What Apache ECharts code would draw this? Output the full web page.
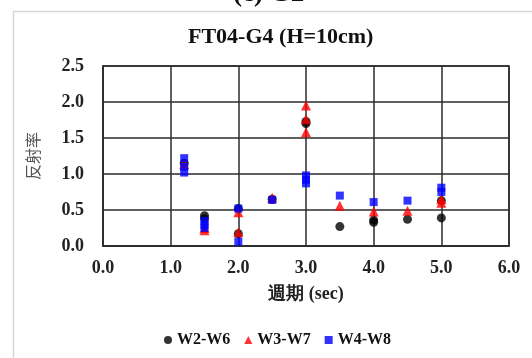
<!DOCTYPE html>
<html>
<head>
<meta charset="utf-8">
<script src="https://cdn.jsdelivr.net/npm/echarts@6/dist/echarts.min.js"></script>
<style>
  html, body { margin: 0; padding: 0; background: #fff; }
  #chart { width: 532px; height: 358px; }
</style>
</head>
<body>
<div id="chart"></div>
<script>
// Reflection coefficient vs. wave period, gauge pairs W2-W6 / W3-W7 / W4-W8
const xTicks = ['0.0', '1.0', '2.0', '3.0', '4.0', '5.0', '6.0'];
const yTicks = ['0.0', '0.5', '1.0', '1.5', '2.0', '2.5'];

const w26Period = [1.2, 1.5, 1.5, 2.0, 2.0, 2.5, 3.0, 3.0, 3.5, 4.0, 4.0, 4.5, 5.0, 5.0];
const w26Value  = [1.15, 0.42, 0.38, 0.52, 0.17, 0.65, 1.70, 1.73, 0.27, 0.33, 0.36, 0.37, 0.63, 0.39];

const w37Period = [1.2, 1.5, 1.5, 2.0, 2.0, 2.5, 3.0, 3.0, 3.0, 3.5, 4.0, 4.5, 5.0, 5.0];
const w37Value  = [1.14, 0.22, 0.25, 0.47, 0.19, 0.67, 1.95, 1.76, 1.58, 0.56, 0.48, 0.49, 0.60, 0.65];

const w48Period = [1.2, 1.2, 1.2, 1.5, 1.5, 1.5, 2.0, 2.0, 2.5, 3.0, 3.0, 3.0, 3.5, 4.0, 4.5, 5.0, 5.0];
const w48Value  = [1.22, 1.10, 1.02, 0.35, 0.29, 0.25, 0.52, 0.06, 0.64, 0.98, 0.92, 0.87, 0.70, 0.61, 0.63, 0.81, 0.75];

const pairs = (xs, ys) => xs.map((x, i) => [x, ys[i]]);

const serif = '"Liberation Serif", "Times New Roman", serif';
const lineColor = '#2b2b2b';

const chart = echarts.init(document.getElementById('chart'), null, { renderer: 'canvas' });
chart.setOption({
  backgroundColor: '#ffffff',
  animation: false,
  graphic: [
    { type: 'rect', left: 11, top: 9, shape: { width: 540, height: 360 },
      style: { fill: 'none', stroke: '#d6d6d6', lineWidth: 1.5 } },
    { type: 'text', left: 233, top: -19,
      style: { text: '(c) G2', font: 'bold 27px ' + serif, fill: '#111' } }
  ],
  title: {
    text: 'FT04-G4 (H=10cm)',
    left: 183,
    top: 21,
    textStyle: { fontFamily: serif, fontWeight: 'bold', fontSize: 22, color: '#111' }
  },
  grid: {
    left: 103, right: 23, top: 66, bottom: 112,
    show: true, borderColor: lineColor, borderWidth: 1.5, backgroundColor: 'transparent'
  },
  xAxis: {
    type: 'value', min: 0, max: 6, interval: 1,
    name: '週期 (sec)', nameLocation: 'middle', nameGap: 39,
    nameTextStyle: { fontFamily: serif, fontWeight: 'bold', fontSize: 18, color: '#222' },
    axisLine: { show: true, lineStyle: { color: lineColor, width: 1.5 } },
    axisTick: { show: false },
    splitLine: { show: true, lineStyle: { color: lineColor, width: 1.5 } },
    axisLabel: {
      margin: 13, fontFamily: serif, fontWeight: 'bold', fontSize: 18, color: '#222',
      formatter: v => xTicks[Math.round(v)]
    }
  },
  yAxis: {
    type: 'value', min: 0, max: 2.5, interval: 0.5,
    name: '反射率', nameLocation: 'middle', nameRotate: 90, nameGap: 62,
    nameTextStyle: { fontFamily: '"Noto Sans CJK TC"', fontSize: 16, color: '#555' },
    axisLine: { show: true, lineStyle: { color: lineColor, width: 1.5 } },
    axisTick: { show: false },
    splitLine: { show: true, lineStyle: { color: lineColor, width: 1.5 } },
    axisLabel: {
      margin: 19, fontFamily: serif, fontWeight: 'bold', fontSize: 18, color: '#222',
      formatter: v => yTicks[Math.round(v * 2)]
    }
  },
  legend: {
    bottom: 5, left: 159, itemGap: 14, itemWidth: 8, itemHeight: 8,
    textStyle: { fontFamily: serif, fontWeight: 'bold', fontSize: 16, color: '#111' },
    data: [
      { name: 'W2-W6', icon: 'circle' },
      { name: 'W3-W7', icon: 'triangle' },
      { name: 'W4-W8', icon: 'rect' }
    ]
  },
  series: [
    { name: 'W2-W6', type: 'scatter', symbol: 'circle', symbolSize: 9,
      itemStyle: { color: '#000000' }, data: pairs(w26Period, w26Value) },
    { name: 'W3-W7', type: 'scatter', symbol: 'triangle', symbolSize: 10,
      itemStyle: { color: '#ff0000' }, data: pairs(w37Period, w37Value) },
    { name: 'W4-W8', type: 'scatter', symbol: 'rect', symbolSize: 8,
      itemStyle: { color: '#0000ff' }, data: pairs(w48Period, w48Value) }
  ]
});
</script>
</body>
</html>
